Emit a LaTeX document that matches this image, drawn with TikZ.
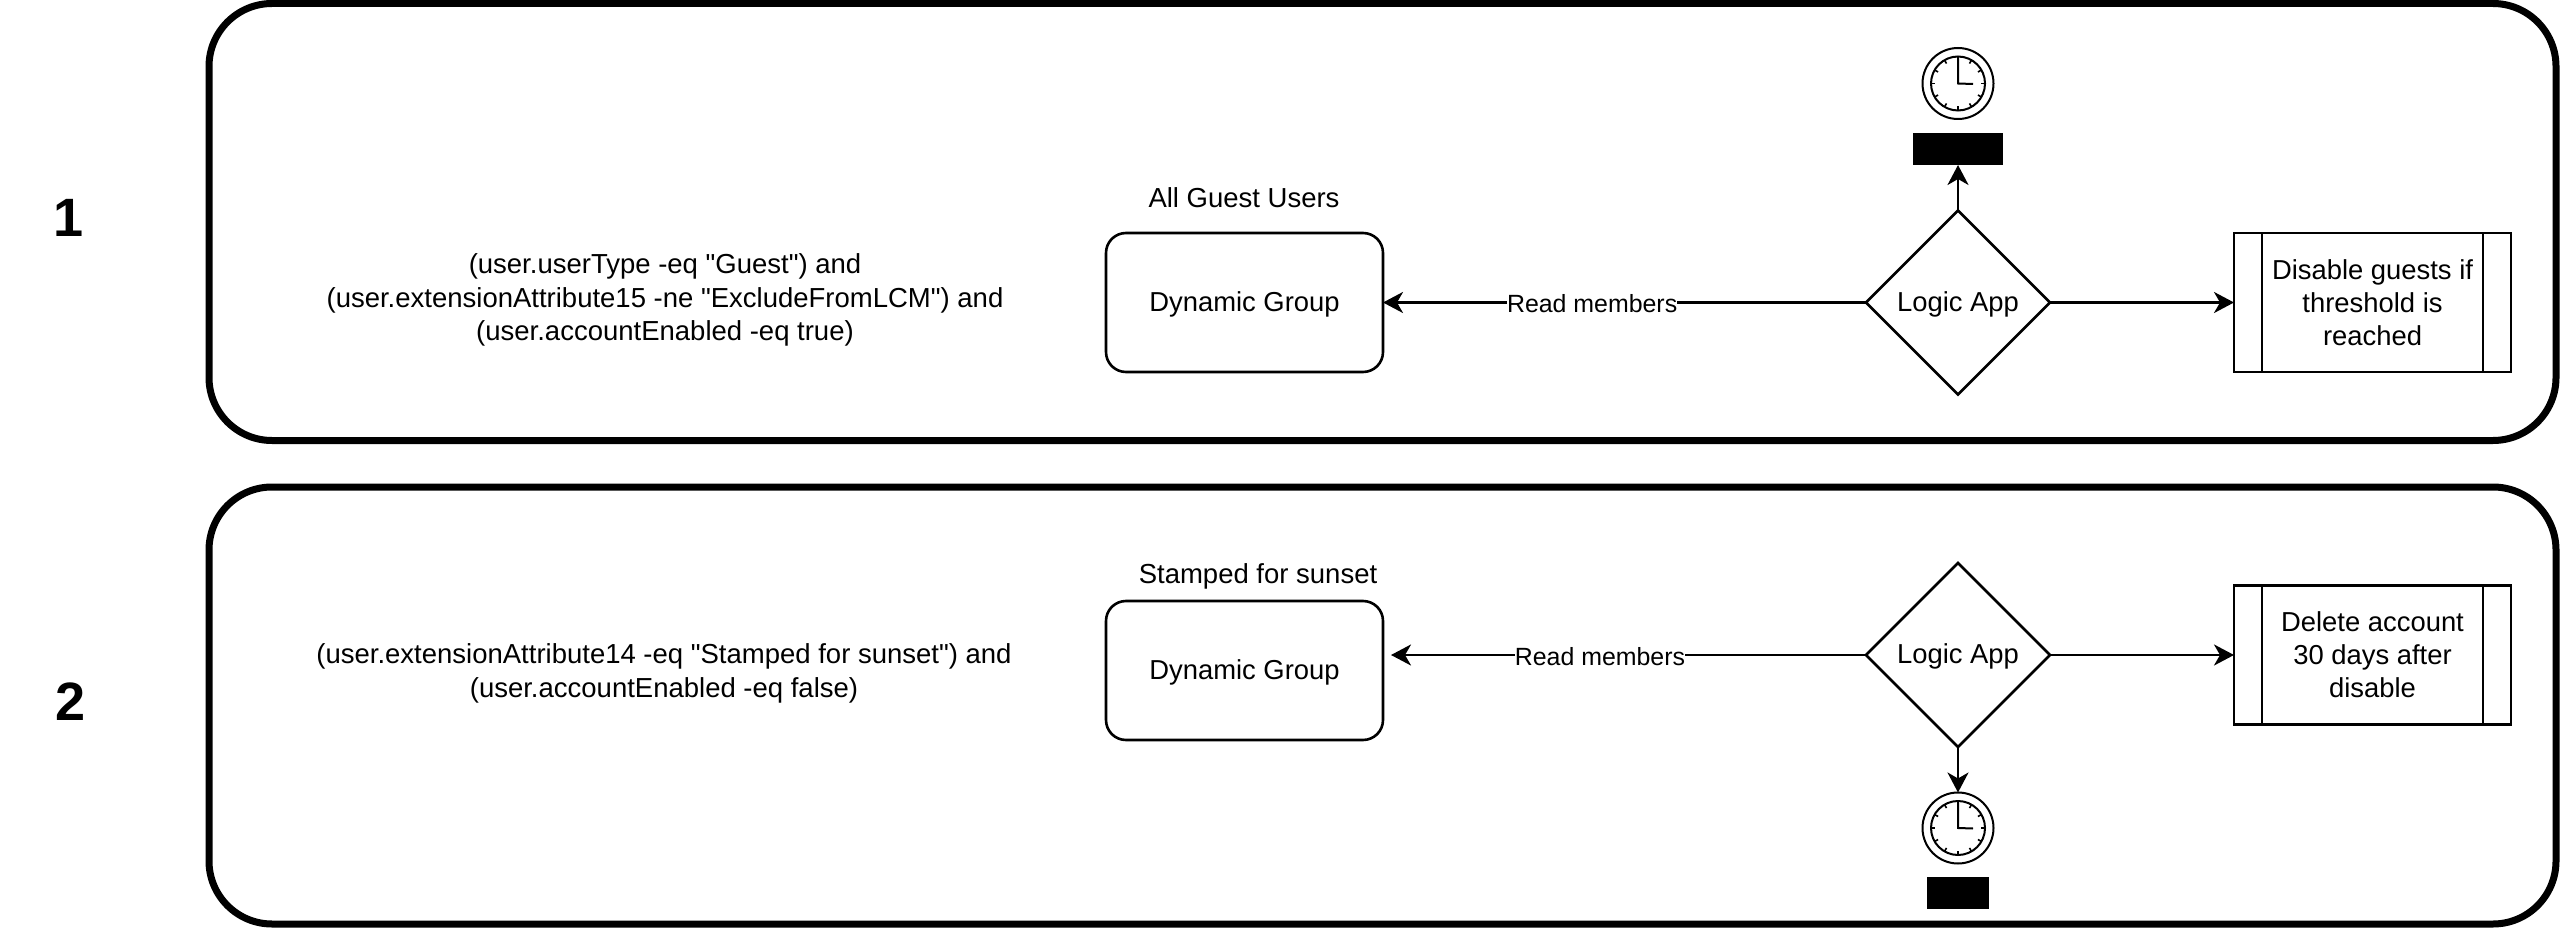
\documentclass[tikz,border=0pt]{standalone}
\usepackage{fontspec}
\setmainfont[Ligatures=TeXOff]{Liberation Sans}
\usetikzlibrary{shapes.geometric,arrows.meta}

\begin{document}
\begin{tikzpicture}[x=1pt,y=-1pt]
      \tikzset{panel/.style={draw,rectangle,line width=7pt,rounded corners=63pt,
          minimum width=2347pt,minimum height=437pt,outer sep=0pt},
        group/.style={draw,rectangle,line width=2.6pt,rounded corners=20pt,text height=23pt,text depth=6pt,
          minimum width=277pt,minimum height=139pt,outer sep=0pt,font=\fontsize{27.4}{33}\selectfont},
        logic/.style={draw,diamond,aspect=1,line width=2.6pt,inner sep=0pt,text height=23pt,text depth=6pt,
          minimum width=184pt,minimum height=184pt,outer sep=0pt,font=\fontsize{27.4}{33}\selectfont},
        process/.style={draw,rectangle,line width=2.6pt,align=center,
          minimum width=277pt,minimum height=139pt,outer sep=0pt,font=\fontsize{27.4}{33}\selectfont},
        txt/.style={inner sep=0pt,align=center,font=\fontsize{27.5}{33.5}\selectfont},
        edgelabel/.style={inner sep=0pt,fill=white,text height=20pt,text depth=0pt,font=\fontsize{24.9}{30}\selectfont},
        number/.style={inner sep=0pt,font=\fontsize{54}{60}\selectfont\bfseries},
        clock/.style={draw,circle,line width=2pt,minimum size=71pt,inner sep=0pt,outer sep=0pt},
        block/.style={fill=black,rectangle,inner sep=0pt,outer sep=0pt},
        flow/.style={line width=2.6pt,-{Stealth[length=20pt,width=21pt,inset=6pt]}}
      }
      \useasboundingbox (0,0) rectangle (2560,928);

      \node [panel] (panelA) at (1382.5,222) {};
      \node [panel] (panelB) at (1382.5,705.5) {};

      \node [number] (numA) at (69,218) {1};
      \node [number] (numB) at (70.5,702) {2};

      \node [txt] (ruleA) at (665,300) {(user.userType -eq "Guest") and\\
        (user.extensionAttribute15 -ne "ExcludeFromLCM") and\\
        (user.accountEnabled -eq true)};
      \node [txt] (ruleB) at (664,673.5) {(user.extensionAttribute14 -eq "Stamped for sunset") and\\
        (user.accountEnabled -eq false)};

      \node [txt] (titleA) at (1244,198) {All Guest Users};
      \node [txt] (titleB) at (1258,576) {Stamped for sunset};

      \node [group] (groupA) at (1244.5,302.5) {Dynamic Group};
      \node [group] (groupB) at (1244.5,670.5) {Dynamic Group};
      \coordinate (endB) at (1391,655);

      \node [logic] (logicA) at (1958,302.5) {Logic App};
      \node [logic] (logicB) at (1958,655) {Logic App};

      \node [process] (procA) at (2372.5,302.5) {Disable guests if\\threshold is\\reached};
      \node [process] (procB) at (2372.5,655) {Delete account\\30 days after\\disable};
      \foreach \n in {procA,procB} {
        \draw [line width=2.6pt] (\n.north west) ++(28,0) -- ++(0,139);
        \draw [line width=2.6pt] (\n.north east) ++(-28,0) -- ++(0,139);
      }

      \node [clock] (clockA) at (1958,83.5) {};
      \node [clock] (clockB) at (1958,828) {};
      \foreach \n in {clockA,clockB} {
        \draw [line width=2pt] (\n) circle (27pt);
        \foreach \a in {0,30,...,330}
          \draw [line width=1.6pt] (\n) ++(\a:27) -- ++(\a:-4);
        \draw [line width=2pt] (\n) ++(0,-25) -- ++(0,25) -- ++(15,0.5);
      }

      \node [block,minimum width=90pt,minimum height=32pt] (blockA) at (1958,149) {};
      \node [block,minimum width=62pt,minimum height=32pt] (blockB) at (1958,893) {};

      \draw [flow] (logicA.north) -- (blockA.south);
      \draw [flow] (logicB.south) -- (clockB.north);
      \draw [flow] (logicA.east) -- (procA.west);
      \draw [flow] (logicB.east) -- (procB.west);
      \draw [flow] (logicA.west) -- node [edgelabel,pos=0.567] (readA) {Read members} (groupA.east);
      \draw [flow] (logicB.west) -- node [edgelabel,pos=0.56] (readB) {Read members} (endB);

    \end{tikzpicture}
\end{document}
